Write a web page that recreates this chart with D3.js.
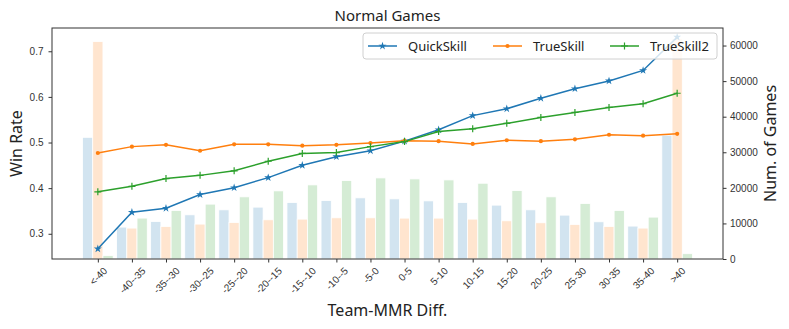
<!DOCTYPE html>
<html>
<head>
<meta charset="utf-8">
<script src="https://cdn.jsdelivr.net/npm/d3@7"></script>
<style>
  body { margin: 0; background: #fff; }
  svg { display: block; font-family: "Noto Sans", "DejaVu Sans", sans-serif; }
</style>
</head>
<body>
<svg id="chart" width="789" height="329"></svg>
<script>
// categories (Team-MMR difference buckets)
var categories = ["<-40", "-40--35", "-35--30", "-30--25", "-25--20", "-20--15", "-15--10", "-10--5", "-5-0",
  "0-5", "5-10", "10-15", "15-20", "20-25", "25-30", "30-35", "35-40", ">40"];

// win rates (left axis)
var quickSkillRate = [0.267, 0.347, 0.356, 0.386, 0.401, 0.423, 0.450, 0.469, 0.482,
  0.503, 0.528, 0.559, 0.574, 0.597, 0.618, 0.635, 0.658, 0.731];
var trueSkillRate = [0.477, 0.491, 0.495, 0.482, 0.496, 0.496, 0.493, 0.495, 0.499,
  0.504, 0.503, 0.497, 0.505, 0.503, 0.507, 0.517, 0.515, 0.519];
var trueSkill2Rate = [0.392, 0.404, 0.421, 0.428, 0.438, 0.459, 0.476, 0.478, 0.491,
  0.502, 0.524, 0.530, 0.542, 0.555, 0.566, 0.577, 0.585, 0.608];

// number of games (right axis)
var quickSkillGames = [34200, 8970, 10540, 12420, 13820, 14580, 15870, 16430, 17190,
  16900, 16340, 15870, 15140, 13820, 12330, 10460, 9250, 34800];
var trueSkillGames = [61100, 8690, 9140, 9810, 10260, 11020, 11210, 11580, 11580,
  11490, 11490, 11210, 10740, 10180, 9720, 9140, 8690, 62000];
var trueSkill2Games = [950, 11500, 13630, 15420, 17470, 19150, 20830, 22040, 22790,
  22510, 22230, 21300, 19240, 17470, 15600, 13630, 11770, 1490];

var leftTicks = [0.3, 0.4, 0.5, 0.6, 0.7];
var rightTicks = [0, 10000, 20000, 30000, 40000, 50000, 60000];

var series = [
  { name: "QuickSkill", color: "#1f77b4", rate: quickSkillRate, games: quickSkillGames, marker: "star", off: -0.3 },
  { name: "TrueSkill", color: "#ff7f0e", rate: trueSkillRate, games: trueSkillGames, marker: "dot", off: 0 },
  { name: "TrueSkill2", color: "#2ca02c", rate: trueSkill2Rate, games: trueSkill2Games, marker: "plus", off: 0.3 }
];

var plotLeft = 52, plotRight = 723, plotTop = 28, plotBottom = 259;
var svg = d3.select("#chart");

var x = d3.scaleLinear().domain([-1.345, 18.345]).range([plotLeft, plotRight]);
var yL = d3.scaleLinear().domain([0.2447, 0.751]).range([plotBottom, plotTop]);
var yR = d3.scaleLinear().domain([0, 64930]).range([plotBottom, plotTop]);
var barW = x(0.3) - x(0);

// bars (right axis)
series.forEach(function(s) {
  svg.append("g").selectAll("rect").data(s.games).enter().append("rect")
    .attr("x", function(d, i) { return x(i + s.off) - barW / 2; })
    .attr("y", function(d) { return yR(d); })
    .attr("width", barW)
    .attr("height", function(d) { return plotBottom - yR(d); })
    .attr("fill", s.color).attr("fill-opacity", 0.2)
    .attr("stroke", "#fff").attr("stroke-width", 0.8);
});

// lines
function drawMarker(g, type, color) {
  if (type === "star") {
    g.append("path").attr("d", d3.symbol().type(d3.symbolStar).size(20)).attr("fill", color);
  } else if (type === "dot") {
    g.append("circle").attr("r", 2.1).attr("fill", color);
  } else {
    g.append("path").attr("d", "M-3.5,0H3.5M0,-3.5V3.5").attr("stroke", color).attr("stroke-width", 1.2);
  }
}
var line = d3.line().x(function(d, i) { return x(i); });
series.forEach(function(s) {
  svg.append("path").datum(s.rate)
    .attr("d", line.y(function(d) { return yL(d); }))
    .attr("fill", "none").attr("stroke", s.color).attr("stroke-width", 1.5);
  s.rate.forEach(function(v, i) {
    drawMarker(svg.append("g").attr("transform", "translate(" + x(i) + "," + yL(v) + ")"), s.marker, s.color);
  });
});

// frame
svg.append("rect").attr("x", plotLeft).attr("y", plotTop).attr("width", plotRight - plotLeft).attr("height", plotBottom - plotTop)
  .attr("fill", "none").attr("stroke", "#333").attr("stroke-width", 1);

// axes
var axL = svg.append("g").attr("transform", "translate(" + plotLeft + ",0)")
  .call(d3.axisLeft(yL).tickValues(leftTicks).tickFormat(d3.format(".1f")).tickSizeOuter(0).tickSize(3.5).tickPadding(5));
var axR = svg.append("g").attr("transform", "translate(" + plotRight + ",0)")
  .call(d3.axisRight(yR).tickValues(rightTicks).tickFormat(d3.format("d")).tickSizeOuter(0).tickSize(3.5).tickPadding(3.5));
var axB = svg.append("g").attr("transform", "translate(0," + plotBottom + ")")
  .call(d3.axisBottom(x).tickValues(d3.range(categories.length)).tickFormat(function(i) { return categories[i]; })
    .tickSizeOuter(0).tickSize(3.5));
[axL, axR, axB].forEach(function(a) {
  a.select(".domain").remove();
  a.selectAll("line").attr("stroke", "#333");
  a.selectAll("text").attr("fill", "#333").style("font-size", "10px");
});

// rotate x tick labels 45deg, centred under the tick
axB.selectAll(".tick text").each(function() {
  var t = d3.select(this);
  var w = this.getComputedTextLength();
  var h = 10;
  var half = (w + h) / Math.SQRT2 / 2;
  t.attr("y", null).attr("dy", "0.35em").attr("text-anchor", "middle")
    .attr("transform", "translate(0," + (3.5 + 3 + half) + ") rotate(-45)");
});

// titles
svg.append("text").attr("x", (plotLeft + plotRight) / 2).attr("y", 21).attr("text-anchor", "middle")
  .style("font-size", "15px").attr("fill", "#222").text("Normal Games");
svg.append("text").attr("transform", "translate(22," + (plotTop + plotBottom) / 2 + ") rotate(-90)")
  .attr("text-anchor", "middle").style("font-size", "16px").attr("fill", "#222").text("Win Rate");
svg.append("text").attr("transform", "translate(776," + (plotTop + plotBottom) / 2 + ") rotate(-90)")
  .attr("text-anchor", "middle").style("font-size", "16px").attr("fill", "#222").text("Num. of Games");
svg.append("text").attr("x", (plotLeft + plotRight) / 2).attr("y", 316).attr("text-anchor", "middle")
  .style("font-size", "16px").attr("fill", "#222").text("Team-MMR Diff.");

// legend
var lg = svg.append("g").attr("transform", "translate(363,33)");
lg.append("rect").attr("width", 354).attr("height", 26).attr("rx", 3)
  .attr("fill", "#fff").attr("fill-opacity", 0.8).attr("stroke", "#d0d0d0");
var legendX = [5, 130, 247];
series.forEach(function(s, i) {
  var g = lg.append("g").attr("transform", "translate(" + legendX[i] + ",13)");
  g.append("line").attr("x1", 0).attr("x2", 29).attr("stroke", s.color).attr("stroke-width", 1.5);
  drawMarker(g.append("g").attr("transform", "translate(14.5,0)"), s.marker, s.color);
  g.append("text").attr("x", 40).attr("dy", "0.35em").style("font-size", "13px").attr("fill", "#222").text(s.name);
});
</script>
</body>
</html>
